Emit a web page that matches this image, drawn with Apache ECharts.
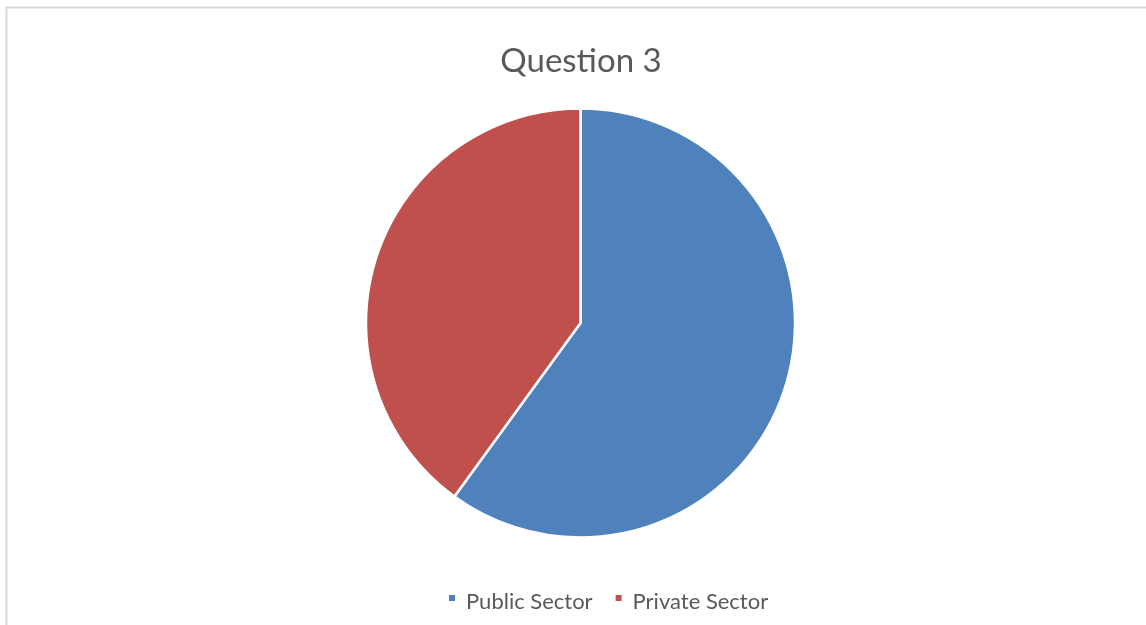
<!DOCTYPE html>
<html>
<head>
<meta charset="utf-8">
<script src="https://cdn.jsdelivr.net/npm/echarts@6/dist/echarts.min.js"></script>
<style>
  html, body { margin: 0; padding: 0; background: #fff; }
  #chart { width: 1146px; height: 625px; }
</style>
</head>
<body>
<div id="chart"></div>
<script>
// Survey answers for question 3
const categories = ['Public Sector', 'Private Sector'];
const values = [60, 40];
const colors = ['#4f81bd', '#c0504d'];
const titleText = 'Question 3';

// Square legend key sitting in the upper half of its box, so it lines up with the cap height
const keyIcon = 'path://M0,0L8,0L8,8L0,8Z M0,16L0.01,16';

const chart = echarts.init(document.getElementById('chart'), null, { renderer: 'canvas' });

chart.setOption({
  backgroundColor: '#ffffff',
  animation: false,
  legend: {
    data: categories,
    left: 442,
    top: 586,
    icon: keyIcon,
    itemWidth: 8,
    itemHeight: 16,
    itemGap: 21,
    textStyle: {
      fontFamily: 'Lato',
      fontSize: 22,
      color: '#595959',
      padding: [0, 0, 0, 5]
    }
  },
  graphic: [{
    type: 'rect',
    shape: { x: 6.5, y: 7.5, width: 1300, height: 800 },
    style: { fill: 'none', stroke: '#d9d9d9', lineWidth: 2 },
    silent: true
  }, {
    type: 'text',
    x: 581,
    y: 61,
    silent: true,
    style: {
      text: titleText,
      align: 'center',
      verticalAlign: 'middle',
      fontFamily: 'Lato',
      fontSize: 33,
      fill: '#595959'
    }
  }],
  series: [{
    type: 'pie',
    center: [580.5, 323],
    radius: [0, 214.5],
    startAngle: 90,
    clockwise: true,
    label: { show: false },
    labelLine: { show: false },
    itemStyle: { borderColor: '#ffffff', borderWidth: 2.5 },
    emphasis: { disabled: true },
    data: categories.map((name, i) => ({
      name,
      value: values[i],
      itemStyle: { color: colors[i] }
    }))
  }]
});
</script>
</body>
</html>
